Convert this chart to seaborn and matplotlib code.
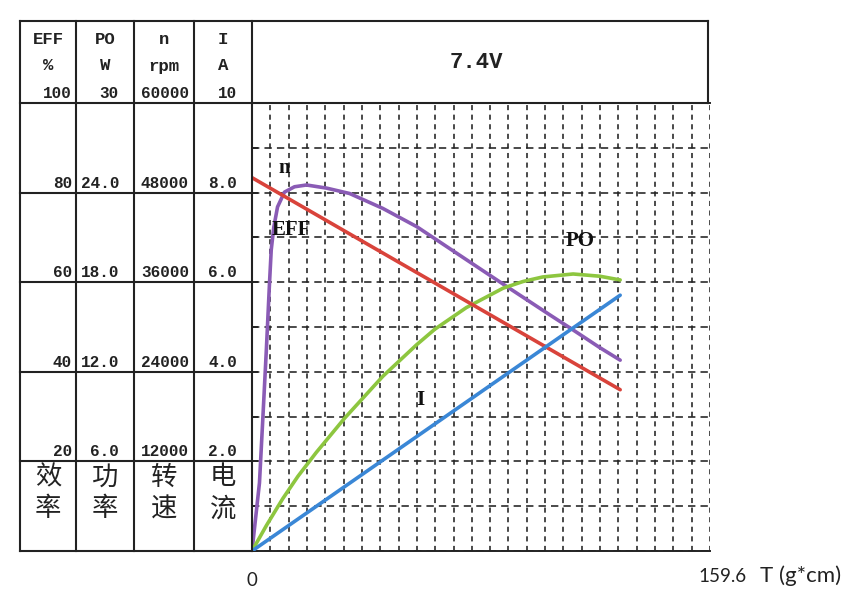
import matplotlib
matplotlib.use("Agg")
import matplotlib.pyplot as plt
import matplotlib.transforms as mtransforms
import numpy as np
import pandas as pd
import seaborn as sns

# ---------------- data ----------------
torque_eff = [0, 2.6, 3.8, 5.0, 6.1, 6.7, 7.6, 8.9, 11.3, 14.8, 19.0, 26.0, 34.0,
              45.5, 57.4, 68.9, 80.4, 89.8, 103.8, 110.8, 115.3, 121.2, 128.3]
eff = [0, 15.2, 29.9, 44.9, 59.8, 67.2, 72.3, 76.8, 80.1, 81.3, 81.7, 81.0, 79.8,
       76.5, 72.4, 67.5, 62.6, 58.6, 52.7, 49.8, 47.9, 45.4, 42.6]

torque_po = [0, 5.0, 10.7, 16.0, 22.4, 32.3, 45.6, 57.3, 63.7, 74.7, 87.5, 94.5,
             101.3, 111.9, 121.2, 128.3]
po = [0, 1.7, 3.5, 5.0, 6.6, 8.9, 11.7, 13.8, 14.85, 16.3, 17.6, 18.05,
      18.35, 18.55, 18.4, 18.15]

torque_n = [0, 128.3]
speed = [50000, 21600]

torque_i = [0, 128.3]
current = [0, 5.71]

x_max = 159.6
voltage_label = "7.4V"
x_end_label = "159.6"
x_unit_label = "T (g*cm)"

eff_ticks = [100, 80, 60, 40, 20]
eff_labels = ["100", "80", "60", "40", "20"]
po_ticks = [30, 24, 18, 12, 6]
po_labels = ["30", "24.0", "18.0", "12.0", "6.0"]
n_ticks = [60000, 48000, 36000, 24000, 12000]
n_labels = ["60000", "48000", "36000", "24000", "12000"]
i_ticks = [10, 8, 6, 4, 2]
i_labels = ["10", "8.0", "6.0", "4.0", "2.0"]

head_top = ["EFF", "PO", "n", "I"]
head_unit = ["%", "W", "rpm", "A"]
head_cn = [("效", "率"), ("功", "率"), ("转", "速"), ("电", "流")]

# ---------------- style ----------------
sns.set_style("white")
MONO = ["Liberation Mono", "DejaVu Sans Mono"]
CJK = ["Noto Sans CJK SC", "DejaVu Sans"]
SANS = ["Lato", "DejaVu Sans"]
plt.rcParams["font.family"] = ["Liberation Mono", "Noto Sans CJK SC", "DejaVu Sans"]

C_EFF = "#8a5bb5"
C_PO = "#8dc63f"
C_N = "#d9433b"
C_I = "#3a87d6"
INK = "#222222"

W, H = 868, 604
AX_L, AX_R, AX_T, AX_B = 252, 710, 103, 551
COLS = [20, 76, 134, 194, AX_L]
TOP = 21
BOX_R = 708

fig = plt.figure(figsize=(W / 100, H / 100), dpi=100)
ax = fig.add_axes([AX_L / W, 1 - AX_B / H, (AX_R - AX_L) / W, (AX_B - AX_T) / H])
ax_po = ax.twinx()
ax_n = ax.twinx()
ax_i = ax.twinx()

# ---------------- curves ----------------
lw = 2.6
sns.lineplot(data=pd.DataFrame({"T": torque_eff, "v": eff}), x="T", y="v", ax=ax,
             color=C_EFF, linewidth=lw, solid_capstyle="round", solid_joinstyle="round")
sns.lineplot(data=pd.DataFrame({"T": torque_po, "v": po}), x="T", y="v", ax=ax_po,
             color=C_PO, linewidth=lw, solid_capstyle="round", solid_joinstyle="round")
sns.lineplot(data=pd.DataFrame({"T": torque_n, "v": speed}), x="T", y="v", ax=ax_n,
             color=C_N, linewidth=lw, solid_capstyle="round")
sns.lineplot(data=pd.DataFrame({"T": torque_i, "v": current}), x="T", y="v", ax=ax_i,
             color=C_I, linewidth=lw, solid_capstyle="round")

ax.set_xlim(0, x_max)
ax.set_ylim(0, 100)
ax_po.set_ylim(0, 30)
ax_n.set_ylim(0, 60000)
ax_i.set_ylim(0, 10)

for a in (ax, ax_po, ax_n, ax_i):
    a.set_xlabel("")
    a.set_ylabel("")
for a in (ax_po, ax_n, ax_i):
    a.set_yticks([])
    for s in a.spines.values():
        s.set_visible(False)
    a.patch.set_visible(False)

# ---------------- grid / ticks ----------------
ax.set_xticks(np.linspace(0, x_max, 6))
ax.set_xticks(np.linspace(0, x_max, 26), minor=True)
ax.set_yticks(np.arange(0, 101, 10))
ax.set_xticklabels([])
ax.set_yticklabels([])
ax.tick_params(axis="x", which="major", direction="inout", length=10, width=1.3, color=INK)
ax.tick_params(axis="x", which="minor", direction="in", length=4.5, width=1.3, color=INK)
ax.tick_params(axis="y", which="major", direction="in", length=4, width=1.3, color=INK)
ax.xaxis.grid(True, which="both", color=INK, linewidth=1.15, linestyle=(0, (3.2, 2.8)))
ax.yaxis.grid(True, which="major", color=INK, linewidth=1.15, linestyle=(0, (4.6, 3.2)))
ax.set_axisbelow(True)
for side in ("left", "bottom", "top"):
    ax.spines[side].set_visible(True)
    ax.spines[side].set_color(INK)
    ax.spines[side].set_linewidth(1.4)
ax.spines["right"].set_visible(False)

# ---------------- curve labels ----------------
lab_kw = dict(fontsize=15, fontweight="bold", color="#111111", family=["Liberation Serif"],
              ha="center", va="center", zorder=5)
ax.text(11.3, 85.5, "n", **lab_kw)
ax.text(13.8, 71.7, "EFF", **lab_kw)
ax.text(114.2, 69.2, "PO", **lab_kw)
ax.text(58.8, 33.7, "I", **lab_kw)

# ---------------- scale labels in the table ----------------
def col_labels(a, ticks, labels, right_px):
    xf = (right_px - AX_L) / (AX_R - AX_L)
    tr = mtransforms.offset_copy(a.get_yaxis_transform(), fig=fig, x=0, y=5, units="dots")
    for v, s in zip(ticks, labels):
        a.text(xf, v, s, transform=tr, ha="right", va="baseline", fontsize=11.5,
               fontweight="bold", family=MONO, color=INK, clip_on=False)

col_labels(ax, eff_ticks, eff_labels, 72)
col_labels(ax_po, po_ticks, po_labels, 119)
col_labels(ax_n, n_ticks, n_labels, 189)
col_labels(ax_i, i_ticks, i_labels, 237)

# axis end labels
tr0 = mtransforms.offset_copy(ax.get_xaxis_transform(), fig=fig, x=0, y=-29, units="dots")
ax.text(0, 0, "0", transform=tr0, ha="center", va="center", fontsize=13.5,
        family=SANS, color=INK, clip_on=False)
tr1 = mtransforms.offset_copy(ax.get_xaxis_transform(), fig=fig, x=-12, y=-25, units="dots")
ax.text(x_max, 0, x_end_label, transform=tr1, ha="left", va="center", fontsize=13.5,
        family=SANS, color=INK, clip_on=False)
tr2 = mtransforms.offset_copy(ax.get_xaxis_transform(), fig=fig, x=50, y=-25, units="dots")
ax.text(x_max, 0, x_unit_label, transform=tr2, ha="left", va="center", fontsize=16,
        family=SANS, color=INK, clip_on=False)

# ---------------- table frame (pixel overlay) ----------------
ov = fig.add_axes([0, 0, 1, 1], zorder=10)
ov.set_xlim(0, W)
ov.set_ylim(H, 0)
ov.axis("off")
ov.patch.set_visible(False)
lkw = dict(color=INK, linewidth=1.5, solid_capstyle="projecting")
ov.plot([COLS[0], BOX_R], [TOP, TOP], **lkw)
ov.plot([COLS[0], BOX_R], [AX_T, AX_T], **lkw)
ov.plot([BOX_R, BOX_R], [TOP, AX_T], **lkw)
ov.plot([COLS[0], AX_L], [AX_B, AX_B], **lkw)
for cx in COLS:
    ov.plot([cx, cx], [TOP, AX_B], **lkw)
for frac in (0.8, 0.6, 0.4, 0.2):
    yy = AX_B - frac * (AX_B - AX_T)
    ov.plot([COLS[0], AX_L], [yy, yy], **lkw)

centers = [(COLS[k] + COLS[k + 1]) / 2 for k in range(4)]
for cx, t, u in zip(centers, head_top, head_unit):
    ov.text(cx, 39, t, ha="center", va="center", fontsize=12.5, fontweight="bold",
            family=MONO, color=INK)
    ov.text(cx, 66, u, ha="center", va="center", fontsize=12.5, fontweight="bold",
            family=MONO, color=INK)
for cx, (c1, c2) in zip(centers, head_cn):
    ov.text(cx, 477, c1, ha="center", va="center", fontsize=19, family=CJK, color=INK)
    ov.text(cx, 509, c2, ha="center", va="center", fontsize=19, family=CJK, color=INK)

ov.text((AX_L + BOX_R) / 2 - 4, 63, voltage_label, ha="center", va="center", fontsize=16,
        fontweight="bold", family=MONO, color=INK)

fig.savefig("out.png", dpi=100)
